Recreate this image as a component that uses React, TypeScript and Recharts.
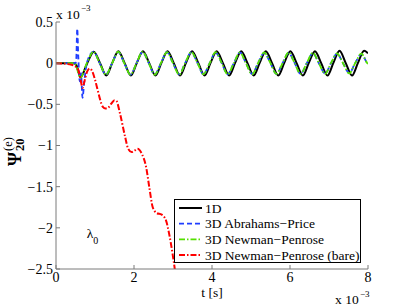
import React from "react";
import { Customized, Legend, Line, LineChart, ReferenceDot, XAxis, YAxis } from "recharts";

type Pt = [number, number];

// time axis in units of 1e-3 s, psi in units of 1e-3
const xTicks = [0, 2, 4, 6, 8];
const yTicks = [0.5, 0, -0.5, -1, -1.5, -2, -2.5];

const psi1D: Pt[] = [
  [0, 0], [0.45, 0], [0.52, -0.02], [0.57, -0.1], [0.63, -0.17], [0.8, 0], [0.97, 0.14],
  [1.13, 0], [1.29, -0.15], [1.44, 0], [1.6, 0.145], [1.76, 0], [1.92, -0.15], [2.07, 0],
  [2.23, 0.145], [2.39, 0], [2.55, -0.15], [2.7, 0], [2.86, 0.145], [3.02, 0], [3.18, -0.15],
  [3.33, 0], [3.49, 0.145], [3.65, 0], [3.81, -0.15], [3.96, 0], [4.12, 0.145], [4.28, 0],
  [4.44, -0.15], [4.59, 0], [4.75, 0.145], [4.91, 0], [5.07, -0.15], [5.22, 0], [5.38, 0.145],
  [5.54, 0], [5.7, -0.15], [5.85, 0], [6.01, 0.145], [6.17, 0], [6.33, -0.15], [6.48, 0],
  [6.64, 0.145], [6.8, 0], [6.96, -0.15], [7.11, 0], [7.27, 0.15], [7.43, 0], [7.59, -0.15],
  [7.74, 0], [7.9, 0.15], [8, 0.12],
];

const psiAbrahamsPrice: Pt[] = [
  [0, 0], [0.5, 0], [0.52, 0.05], [0.545, 0.42], [0.57, 0.1], [0.61, -0.22], [0.64, -0.12],
  [0.68, -0.42], [0.72, -0.25], [0.79, 0], [0.96, 0.14], [1.12, 0], [1.28, -0.14], [1.44, 0],
  [1.595, 0.135], [1.75, 0], [1.91, -0.14], [2.065, 0], [2.22, 0.135], [2.38, 0], [2.53, -0.14],
  [2.69, 0], [2.845, 0.135], [3.0, 0], [3.16, -0.135], [3.31, 0], [3.47, 0.13], [3.63, 0],
  [3.78, -0.135], [3.94, 0], [4.09, 0.13], [4.25, 0], [4.4, -0.135], [4.56, 0], [4.715, 0.13],
  [4.87, 0], [5.03, -0.13], [5.18, 0], [5.34, 0.125], [5.5, 0], [5.65, -0.13], [5.81, 0],
  [5.965, 0.125], [6.12, 0], [6.27, -0.13], [6.43, 0], [6.585, 0.12], [6.74, 0], [6.9, -0.125],
  [7.05, 0], [7.205, 0.115], [7.36, 0], [7.52, -0.12], [7.67, 0], [7.83, 0.11], [7.98, 0],
  [8, -0.01],
];

const psiNewmanPenrose: Pt[] = [
  [0, 0], [0.45, 0], [0.52, -0.03], [0.57, -0.12], [0.62, -0.18], [0.79, 0], [0.96, 0.14],
  [1.12, 0], [1.28, -0.14], [1.44, 0], [1.595, 0.14], [1.75, 0], [1.91, -0.14], [2.065, 0],
  [2.22, 0.14], [2.38, 0], [2.53, -0.14], [2.69, 0], [2.845, 0.135], [3.0, 0], [3.16, -0.14],
  [3.31, 0], [3.47, 0.135], [3.63, 0], [3.78, -0.135], [3.94, 0], [4.09, 0.135], [4.25, 0],
  [4.4, -0.135], [4.56, 0], [4.715, 0.13], [4.87, 0], [5.03, -0.135], [5.18, 0], [5.34, 0.13],
  [5.5, 0], [5.65, -0.13], [5.81, 0], [5.965, 0.13], [6.12, 0], [6.27, -0.13], [6.43, 0],
  [6.585, 0.125], [6.74, 0], [6.9, -0.13], [7.05, 0], [7.205, 0.12], [7.36, 0], [7.52, -0.125],
  [7.67, 0], [7.83, 0.115], [7.98, 0], [8, -0.01],
];

const psiNewmanPenroseBare: Pt[] = [
  [0, 0], [0.2, -0.005], [0.4, -0.02], [0.5, -0.04], [0.57, -0.08], [0.63, -0.2], [0.68, -0.3],
  [0.73, -0.22], [0.8, -0.1], [0.87, -0.065], [0.93, -0.1], [1.0, -0.2], [1.07, -0.33],
  [1.13, -0.44], [1.2, -0.53], [1.27, -0.55], [1.34, -0.54], [1.42, -0.49], [1.5, -0.45],
  [1.55, -0.46], [1.64, -0.61], [1.77, -0.89], [1.85, -1.04], [1.94, -1.08], [2.02, -1.06],
  [2.09, -1.04], [2.2, -1.1], [2.31, -1.26], [2.39, -1.5], [2.48, -1.75], [2.58, -1.82],
  [2.71, -1.84], [2.82, -1.91], [2.9, -2.07], [2.99, -2.32], [3.05, -2.52], [3.1, -2.75],
];

const SERIES = [
  { name: "1D", pts: psi1D, color: "#000000", width: 2, dash: undefined as string | undefined },
  { name: "3D Abrahams\u2212Price", pts: psiAbrahamsPrice, color: "#1f3dff", width: 1.8, dash: "5 3" },
  { name: "3D Newman\u2212Penrose", pts: psiNewmanPenrose, color: "#55e000", width: 1.8, dash: "6 2 1.5 2" },
  { name: "3D Newman\u2212Penrose (bare)", pts: psiNewmanPenroseBare, color: "#ff0000", width: 2, dash: "6 2 1.5 2" },
];

const AXIS = "#7a7a7a";
const FONT = "'Liberation Serif', 'Times New Roman', serif";
const minus = (v: number) => String(v).replace("-", "\u2212");

function LegendBox() {
  return (
    <svg width={187} height={64} style={{ display: "block" }}>
      <rect x={0.5} y={0.5} width={186} height={63} fill="#fff" stroke="#000" />
      {SERIES.map((s, i) => {
        const y = 9 + i * 15.7;
        return (
          <g key={s.name}>
            <line x1={5} x2={28} y1={y} y2={y} stroke={s.color} strokeWidth={s.width} strokeDasharray={s.dash} />
            <text x={31} y={y + 4.5} fontSize={13.5} fill="#000" fontFamily={FONT}>
              {s.name}
            </text>
          </g>
        );
      })}
    </svg>
  );
}

function Annotations() {
  return (
    <g fontFamily={FONT} fill="#000">
      <text x={56} y={19} fontSize={13.5}>x 10</text>
      <text x={81} y={11} fontSize={9}>{"\u22123"}</text>
      <text x={335} y={304} fontSize={13.5}>x 10</text>
      <text x={360} y={297} fontSize={9}>{"\u22123"}</text>
      <text x={212} y={297} fontSize={13.5} textAnchor="middle">t [s]</text>
      <g transform="translate(21,166) rotate(-90)">
        <text x={0} y={0} fontSize={18} fontWeight="bold">{"\u03A8"}</text>
        <text x={15} y={-9} fontSize={12.5}>(e)</text>
        <text x={15} y={3} fontSize={12.5} fontWeight="bold">20</text>
      </g>
    </g>
  );
}

const lambdaLabel = (p: any) => (
  <text x={p.cx} y={p.cy} fontFamily={FONT} fill="#000">
    <tspan fontSize={13.5}>{"\u03BB"}</tspan>
    <tspan fontSize={10} dy={6}>0</tspan>
  </text>
);

export default function App() {
  return (
    <div style={{ position: "absolute", left: 0, top: 0, width: 407, height: 306, background: "#fff", fontFamily: FONT }}>
      <LineChart width={407} height={306} margin={{ top: 22, right: 39, bottom: 7, left: 6 }}>
        <XAxis
          dataKey="t"
          type="number"
          domain={[0, 8]}
          ticks={xTicks}
          allowDataOverflow
          height={30}
          stroke={AXIS}
          tickSize={-4}
          tickMargin={7}
          tick={{ fill: "#000", fontSize: 14 }}
        />
        <XAxis xAxisId="top" orientation="top" dataKey="t" type="number" domain={[0, 8]} ticks={xTicks} height={0} stroke={AXIS} tickSize={-4} tick={false} />
        <YAxis
          type="number"
          domain={[-2.5, 0.5]}
          ticks={yTicks}
          allowDataOverflow
          width={50}
          stroke={AXIS}
          tickSize={-4}
          tickMargin={7}
          tickFormatter={minus}
          tick={{ fill: "#000", fontSize: 14 }}
        />
        <YAxis yAxisId="right" orientation="right" type="number" domain={[-2.5, 0.5]} ticks={yTicks} width={0} stroke={AXIS} tickSize={-4} tick={false} />
        {SERIES.map((s) => (
          <Line
            key={s.name}
            data={s.pts.map(([t, v]) => ({ t, v }))}
            dataKey="v"
            name={s.name}
            type="monotone"
            stroke={s.color}
            strokeWidth={s.width}
            strokeDasharray={s.dash}
            dot={false}
            activeDot={false}
            isAnimationActive={false}
          />
        ))}
        <ReferenceDot x={0.79} y={-2.12} r={0} shape={lambdaLabel} />
        <Legend
          layout="vertical"
          align="center"
          verticalAlign="middle"
          content={() => <LegendBox />}
          wrapperStyle={{ left: 174, top: 199, width: 187, height: 64 }}
        />
        <Customized component={Annotations} />
      </LineChart>
    </div>
  );
}
